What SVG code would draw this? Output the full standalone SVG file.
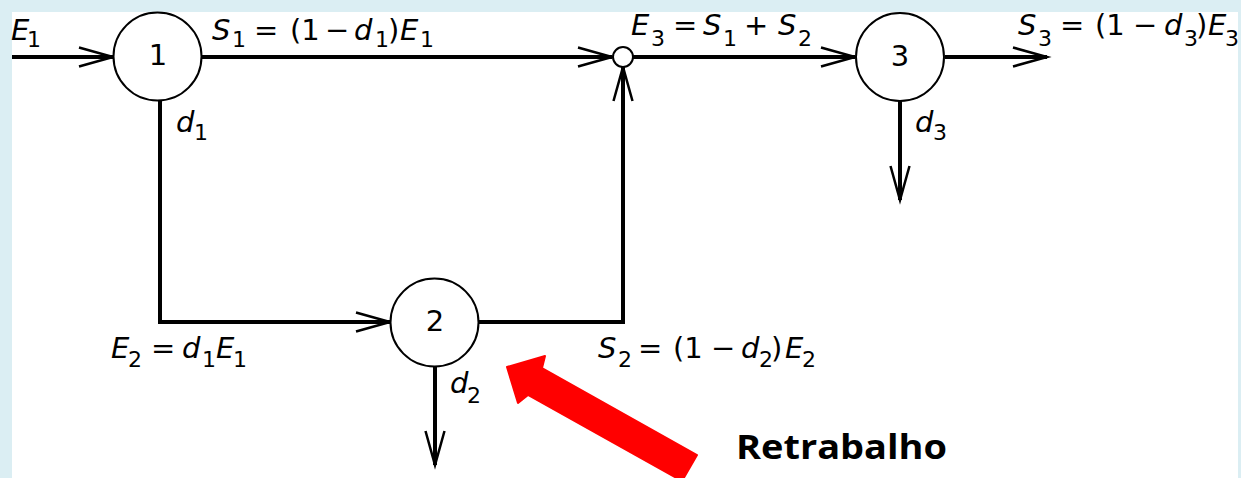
<svg xmlns="http://www.w3.org/2000/svg" width="1241" height="478" viewBox="0 0 1241 478">
<style>
.ln{fill:none;stroke:#000;stroke-width:4;stroke-linejoin:miter}
.nd{fill:#fff;stroke:#000;stroke-width:2}
.m{font-family:"DejaVu Sans",sans-serif;font-size:29px;fill:#000}
.i{font-style:italic}
.s{font-size:22px}
.num{font-family:"DejaVu Sans",sans-serif;font-size:29px;fill:#000;text-anchor:middle}
.rt{font-family:"Open Sans","Liberation Sans",sans-serif;font-weight:bold;font-size:34px;fill:#000}
</style>
<defs>
<marker id="arr" markerUnits="userSpaceOnUse" orient="auto" refX="0" refY="0" markerWidth="40" markerHeight="24" viewBox="-36 -12 40 24" overflow="visible">
<path d="M-34,-9.5 L0,0 L-34,9.5" fill="none" stroke="#000" stroke-width="2.5" stroke-linejoin="miter"/>
</marker>
</defs>
<rect x="0" y="0" width="1241" height="478" fill="#DBEEF3"/>
<rect x="12" y="12" width="1226" height="466" fill="#fff"/>
<g id="connectors">
<path class="ln" d="M12,57 H113" marker-end="url(#arr)"/>
<path class="ln" d="M202,57 H612" marker-end="url(#arr)"/>
<path class="ln" d="M160,100 V322 H390" marker-end="url(#arr)"/>
<path class="ln" d="M479,322 H623 V67" marker-end="url(#arr)"/>
<path class="ln" d="M633,57 H855" marker-end="url(#arr)"/>
<path class="ln" d="M945,57 H1047" marker-end="url(#arr)"/>
<path class="ln" d="M900,101 V200" marker-end="url(#arr)"/>
<path class="ln" d="M435,367 V465" marker-end="url(#arr)"/>
</g>
<g id="node1">
<circle class="nd" cx="157.5" cy="56.5" r="44"/>
<text class="num" x="158" y="65">1</text>
</g>
<g id="node2">
<circle class="nd" cx="434.5" cy="322.5" r="44"/>
<text class="num" x="435" y="331">2</text>
</g>
<g id="node3">
<circle class="nd" cx="900" cy="57" r="44"/>
<text class="num" x="900" y="65.5">3</text>
</g>
<g id="junction">
<circle class="nd" cx="623" cy="57" r="10"/>
</g>
<g id="labels">
<text class="m"><tspan class="i" x="11" y="40">E</tspan><tspan class="s" x="27" y="47">1</tspan></text>
<text class="m"><tspan class="i" x="212" y="40">S</tspan><tspan class="s" x="232" y="47">1</tspan><tspan x="254" y="40">=</tspan><tspan x="290" y="40">(1</tspan><tspan x="325" y="40">−</tspan><tspan class="i" x="354" y="40">d</tspan><tspan class="s" x="375" y="47">1</tspan><tspan x="388" y="40">)</tspan><tspan class="i" x="400" y="40">E</tspan><tspan class="s" x="420" y="47">1</tspan></text>
<text class="m"><tspan class="i" x="176" y="132">d</tspan><tspan class="s" x="194" y="140">1</tspan></text>
<text class="m"><tspan class="i" x="631" y="35">E</tspan><tspan class="s" x="651" y="46">3</tspan><tspan x="673" y="35">=</tspan><tspan class="i" x="703" y="35">S</tspan><tspan class="s" x="723" y="46">1</tspan><tspan x="744" y="35">+</tspan><tspan class="i" x="778" y="35">S</tspan><tspan class="s" x="798" y="46">2</tspan></text>
<text class="m"><tspan class="i" x="1018" y="35">S</tspan><tspan class="s" x="1038" y="46">3</tspan><tspan x="1060" y="35">=</tspan><tspan x="1095" y="35">(1</tspan><tspan x="1133" y="35">−</tspan><tspan class="i" x="1164" y="35">d</tspan><tspan class="s" x="1184" y="46">3</tspan><tspan x="1196" y="35">)</tspan><tspan class="i" x="1208" y="35">E</tspan><tspan class="s" x="1225" y="46">3</tspan></text>
<text class="m"><tspan class="i" x="915" y="132">d</tspan><tspan class="s" x="933" y="140">3</tspan></text>
<text class="m"><tspan class="i" x="111" y="358">E</tspan><tspan class="s" x="128" y="367">2</tspan><tspan x="151" y="358">=</tspan><tspan class="i" x="182" y="358">d</tspan><tspan class="s" x="202" y="367">1</tspan><tspan class="i" x="216" y="358">E</tspan><tspan class="s" x="233" y="367">1</tspan></text>
<text class="m"><tspan class="i" x="450" y="393">d</tspan><tspan class="s" x="467" y="403">2</tspan></text>
<text class="m"><tspan class="i" x="598" y="358">S</tspan><tspan class="s" x="618" y="367">2</tspan><tspan x="638" y="358">=</tspan><tspan x="673" y="358">(1</tspan><tspan x="711" y="358">−</tspan><tspan class="i" x="741" y="358">d</tspan><tspan class="s" x="759" y="367">2</tspan><tspan x="771" y="358">)</tspan><tspan class="i" x="785" y="358">E</tspan><tspan class="s" x="802" y="367">2</tspan></text>
</g>
<g id="callout">
<polygon points="507,367 545,356 542,368 697,455 682,481 528,395 518,403" fill="#FF0000" stroke="#FF0000" stroke-width="2" stroke-linejoin="round"/>
<text class="rt" x="736" y="459" textLength="211" lengthAdjust="spacingAndGlyphs">Retrabalho</text>
</g>
</svg>
